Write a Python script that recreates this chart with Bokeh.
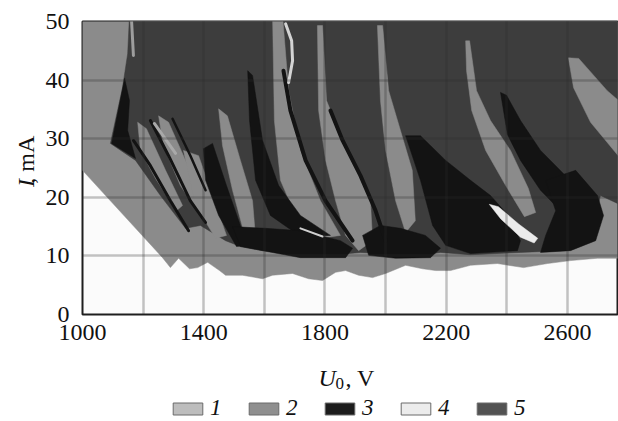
from bokeh.plotting import figure
from bokeh.models import Range1d, FixedTicker, Legend, LegendItem
from bokeh.layouts import column, row
from bokeh.embed import file_html
from bokeh.resources import INLINE
from bokeh.core.properties import value
import math

# ---------------- data (U0 in V, I in mA) ----------------
x_ticks = [1000, 1400, 1800, 2200, 2600]
y_ticks = [0, 10, 20, 30, 40, 50]
x_grid = [1200, 1400, 1600, 1800, 2000, 2200, 2400, 2600]
y_grid = [10, 20, 30, 40]

legend_labels = ["1", "2", "3", "4", "5"]
x_title = ["U", "0", ", V"]
y_title = ["I", ", mA"]

# class colours
color_1 = "#bdbdbd"
color_2 = "#8b8b8b"
color_3 = "#131313"
color_4 = "#ececec"
color_5 = "#3d3d3d"
legend_colors = ["#bdbdbd", "#8f8f8f", "#1c1c1c", "#ececec", "#525252"]

# region 2 (base, above the lower boundary)
base_u = [1000, 2780, 2780, 2699, 2610, 2534, 2455, 2369, 2280, 2214, 2165, 2122, 2066, 2000,
          1957, 1911, 1868, 1835, 1792, 1746, 1693, 1627, 1594, 1528, 1472, 1452, 1413, 1380,
          1353, 1317, 1290, 1264, 1000]
base_i = [51, 51, 9.6, 9.6, 9.2, 8.7, 8.0, 8.7, 8.4, 7.5, 7.5, 7.8, 8.4, 7.0,
          6.3, 6.7, 7.5, 7.2, 5.8, 6.1, 7.0, 6.7, 6.1, 6.7, 6.7, 7.5, 8.9, 8.0,
          7.8, 9.6, 8.0, 9.7, 24.6]

# region 5 (upper dark area)
dark_u = [1155, 2780, 2780, 2709, 2676, 2577, 2445, 2280, 2181, 2115, 1917, 1818, 1719, 1594,
          1521, 1472, 1389, 1340, 1257, 1175, 1092, 1132, 1149]
dark_i = [51, 51, 18.6, 20.3, 13.5, 10.9, 10.6, 10.2, 10.6, 10.1, 10.6, 10.1, 10.6, 10.9,
          11.6, 12.6, 15.2, 14.7, 20.3, 26.3, 29.2, 38.7, 44.5]

# region 2 wedges
ga_u = [1182, 1211, 1274, 1330, 1310, 1241, 1191]
ga_i = [32.8, 31.7, 24.6, 18.6, 17.7, 23.2, 28.0]
gb_u = [1251, 1284, 1340, 1406, 1389, 1323, 1267]
gb_i = [33.9, 32.8, 26.3, 18.6, 16.9, 22.0, 28.8]
gc_u = [1449, 1478, 1521, 1561, 1571, 1531, 1495, 1462]
gc_i = [35.1, 33.9, 26.3, 19.4, 13.0, 14.3, 21.2, 28.8]
gd_u = [1333, 1383, 1429, 1475, 1439, 1373]
gd_i = [28.0, 27.1, 20.3, 13.5, 13.0, 18.6]
g4_u = [1627, 1660, 1680, 1719, 1785, 1851, 1785, 1703, 1653, 1633]
g4_i = [51, 51, 38.2, 28.0, 19.4, 13.5, 13.0, 16.9, 22.9, 33.1]
g5_u = [1775, 1792, 1805, 1845, 1901, 1950, 1957, 1911, 1868, 1835, 1802, 1779]
g5_i = [49.3, 49.3, 36.5, 31.4, 25.4, 19.4, 12.6, 10.9, 13.5, 19.4, 26.3, 34.8]
g6_u = [1973, 1990, 2010, 2049, 2088, 2098, 2066, 2033, 2000, 1983]
g6_i = [49.3, 49.3, 38.2, 31.4, 24.6, 16.0, 14.0, 19.4, 28.0, 36.5]
g7_u = [2264, 2277, 2300, 2346, 2412, 2471, 2495, 2458, 2396, 2330, 2284, 2267]
g7_i = [46.7, 46.7, 38.2, 33.1, 28.0, 21.5, 17.4, 16.7, 22.0, 28.0, 34.8, 41.6]
g8_u = [2603, 2637, 2731, 2780, 2780, 2676, 2620]
g8_i = [43.8, 43.7, 38.2, 36.0, 26.3, 32.8, 38.7]

# region 3 (black) shapes
b1_u = [1139, 1155, 1149, 1175, 1096]
b1_i = [40.3, 36.5, 31.4, 26.6, 29.2]
b3_u = [1399, 1429, 1475, 1521, 1547, 1508, 1449, 1406]
b3_i = [28.3, 29.2, 22.0, 15.2, 11.8, 11.6, 16.9, 22.9]
f1_u = [1545, 1561, 1594, 1647, 1719, 1818, 1719, 1620, 1571, 1551]
f1_i = [41.6, 40.8, 29.7, 22.0, 16.9, 13.5, 13.3, 16.9, 22.9, 33.1]
b4_u = [1495, 1604, 1719, 1851, 1891, 1868, 1719, 1594, 1521]
b4_i = [15.0, 14.7, 14.3, 12.6, 11.3, 9.7, 9.7, 10.9, 11.6]
b5_u = [2066, 2115, 2198, 2280, 2346, 2396, 2445, 2435, 2280, 2198, 2155, 2115]
b5_i = [30.5, 30.5, 26.3, 22.9, 20.3, 17.4, 12.6, 10.9, 10.4, 11.8, 15.2, 22.9]
b6_u = [1924, 1983, 2049, 2131, 2181, 2148, 2033, 1944]
b6_i = [13.5, 15.2, 14.7, 13.5, 11.3, 9.7, 9.6, 10.1]
b7_u = [2379, 2399, 2445, 2511, 2593, 2627, 2577, 2511, 2445, 2402]
b7_i = [37.9, 37.4, 33.1, 28.0, 23.7, 19.8, 17.7, 21.2, 26.3, 30.7]
b8_u = [2528, 2627, 2699, 2719, 2693, 2610, 2511, 2528, 2561]
b8_i = [22.9, 24.6, 20.3, 16.9, 12.6, 10.9, 10.6, 13.5, 17.7]

# region 4 (light) streak
w_u = [2342, 2372, 2440, 2502, 2490, 2445, 2380]
w_i = [18.8, 18.4, 15.4, 13.0, 12.2, 13.2, 16.3]

# thin black streaks (region 3)
la_u = [1168, 1224, 1290, 1350]
la_i = [29.7, 25.4, 19.4, 14.3]
lb_u = [1224, 1284, 1356, 1406]
lb_i = [33.1, 27.1, 19.4, 15.7]
lc_u = [1297, 1356, 1406]
lc_i = [33.4, 27.1, 21.2]
lf2_u = [1663, 1686, 1736, 1802, 1891]
lf2_i = [41.6, 34.8, 26.3, 19.4, 12.6]
lf3_u = [1818, 1858, 1917, 1967, 2000]
lf3_i = [34.8, 29.7, 23.7, 17.7, 12.6]

# thin light streaks (region 1 / 4)
ll_u = [1237, 1307]
ll_i = [32.6, 27.5]
l4_u = [1670, 1690, 1693, 1680]
l4_i = [49.6, 46.7, 43.3, 39.6]
lt_u = [1162, 1168]
lt_i = [50, 44.2]
lb4_u = [1719, 1792]
lb4_i = [14.7, 13.3]

FONT = "Liberation Serif"
INK = "#111111"

# ---------------- main figure ----------------
p = figure(width=578, height=354, x_range=Range1d(1000, 2765), y_range=Range1d(0, 50),
           output_backend="svg", toolbar_location=None, title=None,
           min_border_left=42, min_border_right=1, min_border_top=21, min_border_bottom=40)
p.background_fill_color = "#fbfbfb"
p.border_fill_color = "white"
p.outline_line_color = "#1e1e1e"
p.outline_line_width = 2

polys = [
    (base_u, base_i, color_2),
    (dark_u, dark_i, color_5),
    (ga_u, ga_i, color_2),
    (gb_u, gb_i, color_2),
    (gd_u, gd_i, color_2),
    (gc_u, gc_i, color_2),
    (b1_u, b1_i, color_3),
    (b3_u, b3_i, color_3),
    (g4_u, g4_i, color_2),
    (f1_u, f1_i, color_3),
    (b4_u, b4_i, color_3),
    (g5_u, g5_i, color_2),
    (g6_u, g6_i, color_2),
    (b6_u, b6_i, color_3),
    (b5_u, b5_i, color_3),
    (g7_u, g7_i, color_2),
    (b7_u, b7_i, color_3),
    (b8_u, b8_i, color_3),
    (g8_u, g8_i, color_2),
    (w_u, w_i, color_4),
]
for xs, ys, c in polys:
    p.patch(xs, ys, fill_color=c, line_color=c, line_width=0.5)

streaks = [
    (la_u, la_i, color_3, 3),
    (lb_u, lb_i, color_3, 3),
    (lc_u, lc_i, color_3, 2.5),
    (lf2_u, lf2_i, color_3, 4),
    (lf3_u, lf3_i, color_3, 4),
    (ll_u, ll_i, "#a9a9a9", 3),
    (l4_u, l4_i, "#d4d4d4", 3),
    (lt_u, lt_i, "#9d9d9d", 3),
    (lb4_u, lb4_i, "#cfcfcf", 2),
]
for xs, ys, c, w in streaks:
    p.line(xs, ys, line_color=c, line_width=w, line_join="round", line_cap="round")

for ax in (p.xaxis[0], p.yaxis[0]):
    ax.axis_line_color = None
    ax.major_tick_line_color = None
    ax.minor_tick_line_color = None
    ax.major_tick_out = 0
    ax.major_tick_in = 0
    ax.major_label_text_font = FONT
    ax.major_label_text_font_size = "24px"
    ax.major_label_text_color = INK
p.xaxis.ticker = FixedTicker(ticks=x_ticks)
p.yaxis.ticker = FixedTicker(ticks=y_ticks)
p.xaxis.major_label_standoff = 10
p.yaxis.major_label_standoff = 13

p.xgrid.ticker = FixedTicker(ticks=x_grid)
p.ygrid.ticker = FixedTicker(ticks=y_grid)
for g in (p.xgrid[0], p.ygrid[0]):
    g.grid_line_color = "#2a2a2a"
    g.grid_line_alpha = 0.28
    g.grid_line_width = 2.5
    g.level = "guide"


def blank(fig):
    fig.outline_line_color = None
    fig.background_fill_color = "white"
    fig.border_fill_color = "white"
    fig.min_border = 0
    for g in fig.grid:
        g.visible = False


# ---------------- left strip: y-axis title ----------------
py = figure(width=40, height=354, x_range=Range1d(0, 40), y_range=Range1d(0, 354),
            output_backend="svg", toolbar_location=None, title=None,
            x_axis_location=None, y_axis_location=None,
            min_border_left=0, min_border_right=0, min_border_top=0, min_border_bottom=0)
blank(py)
py.text(x=[25], y=[159], text=[y_title[0]], text_font=value(FONT), text_font_style="italic",
        text_font_size="24px", text_color=INK, text_align="center", text_baseline="middle",
        angle=math.pi / 2)
py.text(x=[25], y=[187], text=[y_title[1]], text_font=value(FONT), text_font_style="normal",
        text_font_size="24px", text_color=INK, text_align="center", text_baseline="middle",
        angle=math.pi / 2)

# ---------------- bottom strip: x-axis title and legend ----------------
pb = figure(width=618, height=67, x_range=Range1d(0, 618), y_range=Range1d(67, 0),
            output_backend="svg", toolbar_location=None, title=None,
            x_axis_location=None, y_axis_location=None,
            min_border_left=0, min_border_right=0, min_border_top=0, min_border_bottom=0)
blank(pb)
pb.text(x=[318], y=[23], text=[x_title[0]], text_font=value(FONT), text_font_style="italic",
        text_font_size="24px", text_color=INK, text_align="left", text_baseline="alphabetic")
pb.text(x=[335], y=[29], text=[x_title[1]], text_font=value(FONT), text_font_style="normal",
        text_font_size="17px", text_color=INK, text_align="left", text_baseline="alphabetic")
pb.text(x=[345], y=[23], text=[x_title[2]], text_font=value(FONT), text_font_style="normal",
        text_font_size="24px", text_color=INK, text_align="left", text_baseline="alphabetic")

# legend swatches: one hidden quad each (outside the visible strip), shown only in the legend
items = []
for lab, col in zip(legend_labels, legend_colors):
    r = pb.quad(left=[-60], right=[-50], top=[-60], bottom=[-50], fill_color=col,
                line_color="#6a6a6a", line_width=1)
    items.append(LegendItem(label=lab, renderers=[r]))
legend = Legend(items=items, orientation="horizontal", location=(169, 0),
                glyph_width=37, glyph_height=15, label_standoff=4, label_width=20,
                spacing=15, padding=0, margin=0, border_line_color=None,
                background_fill_alpha=0, label_text_font=FONT,
                label_text_font_style="italic", label_text_font_size="23px",
                label_text_color=INK)
pb.add_layout(legend)

layout = column(row(py, p, spacing=0), pb, spacing=0)
open("out.html", "w").write(file_html(layout, INLINE))
